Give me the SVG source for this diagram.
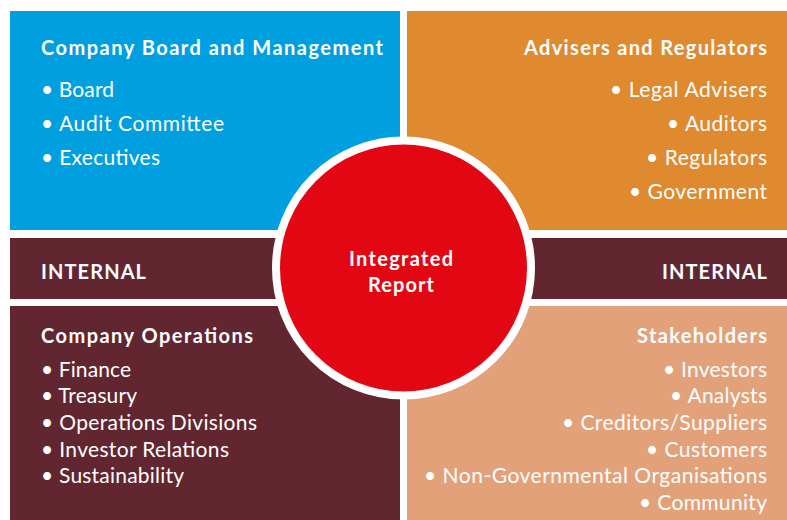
<svg xmlns="http://www.w3.org/2000/svg" width="787" height="520" viewBox="0 0 787 520">
<style>
text{font-family:Lato,"Open Sans","Liberation Sans",sans-serif;fill:#fff}
.t{font-weight:bold;font-size:20px}
.i{font-size:21px}
.r{text-anchor:end}
.c{text-anchor:middle}
</style>
<rect width="787" height="520" fill="#fff"/>
<g id="board">
<rect x="10" y="11" width="390" height="219" fill="#009fdf"/>
<text class="t" x="41" y="55" textLength="342" lengthAdjust="spacing">Company Board and Management</text>
<text class="i" x="41" y="97" textLength="73" lengthAdjust="spacing">• Board</text>
<text class="i" x="41" y="131" textLength="183" lengthAdjust="spacing">• Audit Committee</text>
<text class="i" x="41" y="165" textLength="119" lengthAdjust="spacing">• Executives</text>
</g>
<g id="advisers">
<rect x="407" y="11" width="380" height="219" fill="#e08a2f"/>
<text class="t r" x="767" y="55" textLength="243" lengthAdjust="spacing">Advisers and Regulators</text>
<text class="i r" x="767" y="97" textLength="157" lengthAdjust="spacing">• Legal Advisers</text>
<text class="i r" x="767" y="131" textLength="100" lengthAdjust="spacing">• Auditors</text>
<text class="i r" x="767" y="165" textLength="121" lengthAdjust="spacing">• Regulators</text>
<text class="i r" x="767" y="199" textLength="138" lengthAdjust="spacing">• Government</text>
</g>
<g id="internal-left">
<rect x="10" y="238" width="390" height="61" fill="#622631"/>
<text class="t" x="41" y="279" textLength="105" lengthAdjust="spacing">INTERNAL</text>
</g>
<g id="internal-right">
<rect x="407" y="238" width="380" height="61" fill="#622631"/>
<text class="t r" x="767" y="279" textLength="105" lengthAdjust="spacing">INTERNAL</text>
</g>
<g id="operations">
<rect x="10" y="306" width="390" height="214" fill="#622631"/>
<text class="t" x="41" y="343" textLength="212" lengthAdjust="spacing">Company Operations</text>
<text class="i" x="41" y="377" textLength="90" lengthAdjust="spacing">• Finance</text>
<text class="i" x="41" y="403" textLength="96" lengthAdjust="spacing">• Treasury</text>
<text class="i" x="41" y="430" textLength="216" lengthAdjust="spacing">• Operations Divisions</text>
<text class="i" x="41" y="457" textLength="188" lengthAdjust="spacing">• Investor Relations</text>
<text class="i" x="41" y="483" textLength="143" lengthAdjust="spacing">• Sustainability</text>
</g>
<g id="stakeholders">
<rect x="407" y="306" width="380" height="214" fill="#e3a17a"/>
<text class="t r" x="767" y="343" textLength="130" lengthAdjust="spacing">Stakeholders</text>
<text class="i r" x="767" y="377" textLength="104" lengthAdjust="spacing">• Investors</text>
<text class="i r" x="767" y="403" textLength="97" lengthAdjust="spacing">• Analysts</text>
<text class="i r" x="767" y="430" textLength="205" lengthAdjust="spacing">• Creditors/Suppliers</text>
<text class="i r" x="767" y="457" textLength="121" lengthAdjust="spacing">• Customers</text>
<text class="i r" x="767" y="483" textLength="343" lengthAdjust="spacing">• Non-Governmental Organisations</text>
<text class="i r" x="767" y="510" textLength="128" lengthAdjust="spacing">• Community</text>
</g>
<g id="report">
<circle cx="403.5" cy="268" r="127.5" fill="#e30613" stroke="#fff" stroke-width="8"/>
<text class="t c" x="401" y="266" textLength="104" lengthAdjust="spacing">Integrated</text>
<text class="t c" x="401" y="292" textLength="66" lengthAdjust="spacing">Report</text>
</g>
<g id="connectors"/>
</svg>
